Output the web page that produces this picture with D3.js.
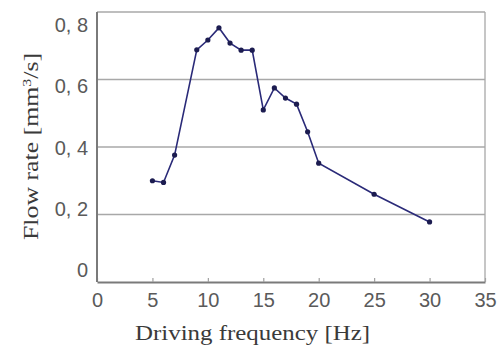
<!DOCTYPE html>
<html>
<head>
<meta charset="utf-8">
<script src="https://cdn.jsdelivr.net/npm/d3@7"></script>
<style>
  body { margin: 0; background: #fff; }
</style>
</head>
<body>
<svg id="chart" width="499" height="347"></svg>
<script>
const freqs = [5, 6, 7, 9, 10, 11, 12, 13, 14, 15, 16, 17, 18, 19, 20, 25, 30];
const flowRates = [0.30, 0.295, 0.376, 0.688, 0.717, 0.753, 0.708, 0.687, 0.687, 0.51, 0.575, 0.545, 0.527, 0.445, 0.352, 0.26, 0.178];
const xTicks = [0, 5, 10, 15, 20, 25, 30, 35];
const yTicks = [0, 0.2, 0.4, 0.6, 0.8];
const yTickLabels = ["0", "0, 2", "0, 4", "0, 6", "0, 8"];

const margin = { top: 12, right: 14, bottom: 65, left: 97 };
const width = 499 - margin.left - margin.right;
const height = 347 - margin.top - margin.bottom;

const svg = d3.select("#chart")
  .append("g")
  .attr("transform", `translate(${margin.left},${margin.top})`);

const xScale = d3.scaleLinear().domain([0, 35]).range([0, width]);
const yScale = d3.scaleLinear().domain([0, 0.8]).range([height, 0]);
// the value labels on the left sit a bit tighter than the grid lines
const yLabelScale = d3.scaleLinear().domain([0, 0.8]).range([height - 12, 13]);

// grid lines (top one closes the frame)
svg.selectAll(".grid")
  .data(yTicks.filter((d) => d > 0))
  .join("line")
  .attr("class", "grid")
  .attr("x1", 0)
  .attr("x2", width)
  .attr("y1", (d) => yScale(d))
  .attr("y2", (d) => yScale(d))
  .attr("stroke", "#a8a8a8")
  .attr("stroke-width", 1.3);

// right frame
svg.append("line")
  .attr("x1", width).attr("x2", width)
  .attr("y1", 0).attr("y2", height)
  .attr("stroke", "#a8a8a8")
  .attr("stroke-width", 1.3);

// x axis
const xAxis = d3.axisBottom(xScale)
  .tickValues(xTicks)
  .tickSize(-4)
  .tickSizeOuter(0)
  .tickPadding(11);

const gx = svg.append("g")
  .attr("class", "x-axis")
  .attr("transform", `translate(0,${height})`)
  .call(xAxis);

gx.select(".domain").attr("stroke", "#7a7a7a").attr("stroke-width", 2);
gx.selectAll(".tick line").attr("stroke", "#a0a0a0").attr("stroke-width", 1.2);
gx.selectAll("text")
  .attr("fill", "#5a5a5a")
  .style("font-family", "Liberation Sans, sans-serif")
  .style("font-size", "20px");

// y axis line
svg.append("line")
  .attr("x1", 0).attr("x2", 0)
  .attr("y1", 0).attr("y2", height)
  .attr("stroke", "#7a7a7a")
  .attr("stroke-width", 2);

// y tick labels
svg.selectAll(".y-label")
  .data(yTicks)
  .join("text")
  .attr("class", "y-label")
  .attr("x", -9)
  .attr("y", (d) => yLabelScale(d))
  .attr("dy", "0.36em")
  .attr("text-anchor", "end")
  .attr("fill", "#5a5a5a")
  .style("font-family", "Liberation Sans, sans-serif")
  .style("font-size", "20px")
  .text((d, i) => yTickLabels[i]);

// data line
const line = d3.line()
  .x((d, i) => xScale(freqs[i]))
  .y((d) => yScale(d));

svg.append("path")
  .datum(flowRates)
  .attr("d", line)
  .attr("fill", "none")
  .attr("stroke", "#2a2a78")
  .attr("stroke-width", 1.6);

svg.selectAll(".dot")
  .data(flowRates)
  .join("circle")
  .attr("class", "dot")
  .attr("cx", (d, i) => xScale(freqs[i]))
  .attr("cy", (d) => yScale(d))
  .attr("r", 2.6)
  .attr("fill", "#1c1c50");

// axis titles
svg.append("text")
  .attr("text-anchor", "middle")
  .attr("x", 155.5)
  .attr("y", height + 58)
  .attr("fill", "#3a3a3a")
  .attr("textLength", 235)
  .attr("lengthAdjust", "spacingAndGlyphs")
  .style("font-family", "Liberation Serif, serif")
  .style("font-size", "21px")
  .text("Driving frequency [Hz]");

const yTitle = svg.append("text")
  .attr("text-anchor", "middle")
  .attr("transform", "rotate(-90)")
  .attr("x", -134.5)
  .attr("y", -59)
  .attr("fill", "#3a3a3a")
  .attr("textLength", 187)
  .attr("lengthAdjust", "spacingAndGlyphs")
  .style("font-family", "Liberation Serif, serif")
  .style("font-size", "21px");
yTitle.append("tspan").text("Flow rate [mm");
yTitle.append("tspan").attr("dy", -7).style("font-size", "13px").text("3");
yTitle.append("tspan").attr("dy", 7).text("/s]");
</script>
</body>
</html>
